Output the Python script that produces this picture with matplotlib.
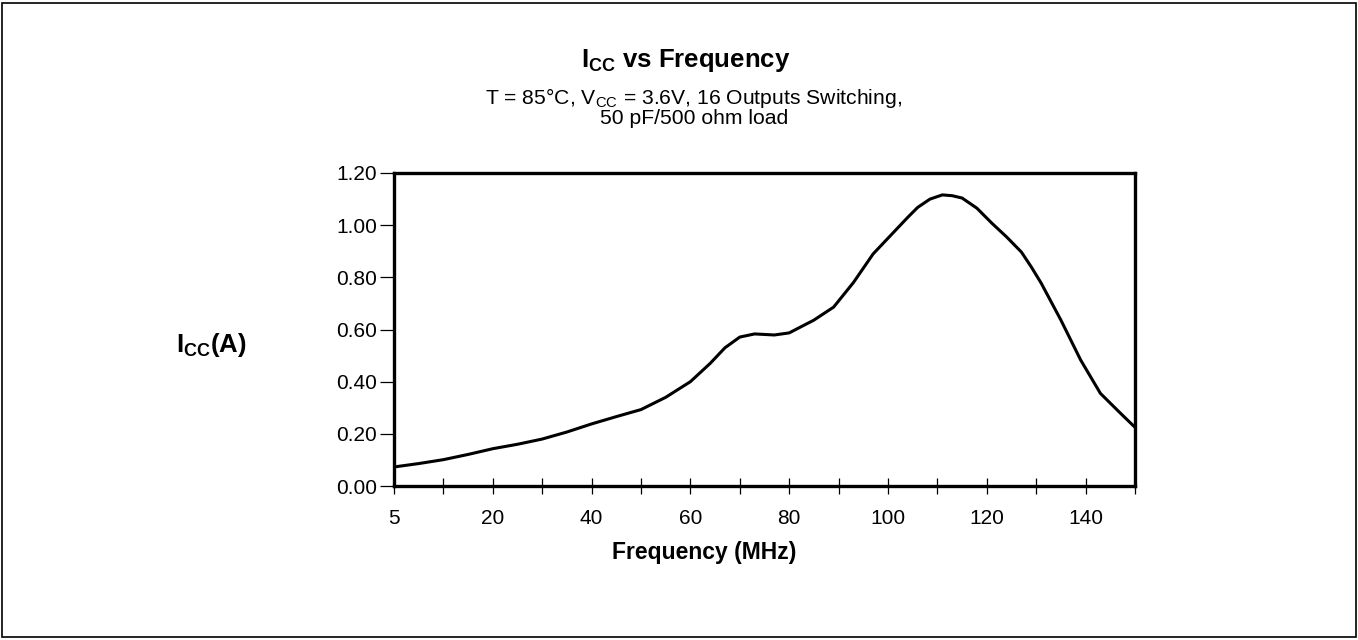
import matplotlib
matplotlib.use("Agg")
import matplotlib.pyplot as plt
from matplotlib.patches import Rectangle

plt.rcParams['font.family'] = ['Liberation Sans', 'DejaVu Sans']
plt.rcParams['mathtext.fontset'] = 'custom'
plt.rcParams['mathtext.rm'] = 'Liberation Sans'
plt.rcParams['mathtext.bf'] = 'Liberation Sans:bold'

# curve (x in axis position units, first point is 5 MHz)
freq_pos = [0, 5, 10, 15, 20, 25, 30, 35, 40, 45, 50, 55, 60, 64, 67, 70, 73,
            77, 80, 85, 89, 93, 97, 101, 104, 106, 108.5, 111, 113, 115, 118,
            121, 124, 127, 129, 131, 135, 139, 143, 147, 150]
icc = [0.073, 0.086, 0.101, 0.121, 0.143, 0.160, 0.180, 0.207, 0.238, 0.266,
       0.293, 0.340, 0.400, 0.470, 0.530, 0.571, 0.583, 0.579, 0.587, 0.636,
       0.686, 0.780, 0.890, 0.970, 1.030, 1.068, 1.100, 1.116, 1.113, 1.104,
       1.065, 1.008, 0.955, 0.897, 0.840, 0.778, 0.636, 0.483, 0.355, 0.280,
       0.225]

xtick_pos = [0, 20, 40, 60, 80, 100, 120, 140, 150]
xtick_labels = ["5", "20", "40", "60", "80", "100", "120", "140", ""]
xminor_pos = [10, 30, 50, 70, 90, 110, 130]
yticks = [0.0, 0.2, 0.4, 0.6, 0.8, 1.0, 1.2]

fig = plt.figure(figsize=(13.58, 6.40), dpi=100)
ax = fig.add_axes([394 / 1358, 1 - 486 / 640, 741 / 1358, 313 / 640])

ax.plot(freq_pos, icc, color="black", lw=2.2, solid_joinstyle="round")

ax.set_xlim(0, 150)
ax.set_ylim(0, 1.2)
ax.set_xticks(xtick_pos)
ax.set_xticklabels(xtick_labels)
ax.set_xticks(xminor_pos, minor=True)
ax.set_yticks(yticks)
ax.set_yticklabels([f"{v:.2f}" for v in yticks])

for s in ax.spines.values():
    s.set_linewidth(2.4)
ax.tick_params(axis="x", which="both", direction="inout", length=11, width=0.9,
               labelsize=15, pad=11)
ax.tick_params(axis="y", which="both", direction="out", length=10, width=0.9,
               labelsize=15, pad=2)

fig.text(704 / 1358, 1 - 553 / 640, "Frequency (MHz)", fontsize=16.5,
         fontweight="bold", ha="center", va="center")
fig.text(211 / 1358, 1 - 345 / 640, r"I$_{\mathbf{CC}}$(A)", fontsize=18.5,
         fontweight="bold", ha="center", va="center")

fig.text(686 / 1358, 1 - 60 / 640, r"I$_{\mathbf{CC}}$ vs Frequency", fontsize=18.5,
         fontweight="bold", ha="center", va="center")
fig.text(694 / 1358, 1 - 98 / 640,
         r"T = 85°C, V$_{\mathrm{CC}}$ = 3.6V, 16 Outputs Switching,",
         fontsize=15.2, ha="center", va="center")
fig.text(694 / 1358, 1 - 118 / 640, "50 pF/500 ohm load",
         fontsize=15.2, ha="center", va="center")

fig.patches.append(Rectangle((2 / 1358, 3 / 640), 1354 / 1358, 634 / 640,
                             transform=fig.transFigure, fill=False,
                             edgecolor="black", lw=1.2))

fig.savefig("out.png", dpi=100)
